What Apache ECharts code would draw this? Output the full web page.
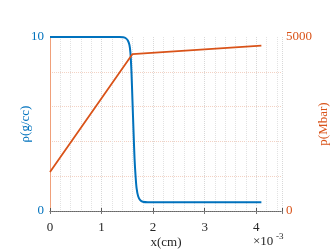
<!DOCTYPE html>
<html><head><meta charset="utf-8">
<script src="https://cdn.jsdelivr.net/npm/echarts@6/dist/echarts.min.js"></script>
<style>html,body{margin:0;padding:0;background:#fff}#c{width:332px;height:249px}</style>
</head><body><div id="c"></div>
<script>
// x in units of 1e-3 cm
const rhoX = [0, 1.35, 1.42, 1.47, 1.51, 1.54, 1.56, 1.58, 1.6, 1.62, 1.64, 1.66, 1.68, 1.71, 1.75, 1.8, 1.9, 4.1];
const rhoY = [10, 10, 9.98, 9.93, 9.8, 9.55, 9.1, 8.0, 6.3, 4.6, 3.0, 2.0, 1.3, 0.85, 0.62, 0.53, 0.5, 0.5];
const pX = [0, 1.6, 4.1];
const pY = [1120, 4510, 4750];
const xTicks = [0, 1, 2, 3, 4];

const blue = '#0072BD', orange = '#D95319';
const font = 'Liberation Serif';
const chart = echarts.init(document.getElementById('c'), null, {renderer: 'canvas'});
chart.setOption({
  animation: false,
  grid: {left: 50, right: 50, top: 37, bottom: 38, containLabel: false, outerBoundsMode: 'none'},
  xAxis: [{
    type: 'value', min: 0, max: 4.5, interval: 1,
    name: 'x(cm)', nameLocation: 'middle', nameGap: 25, nameMoveOverlap: false,
    nameTextStyle: {color: '#262626', fontFamily: font, fontSize: 13},
    axisLine: {lineStyle: {color: '#8a8a8a', type: 'dotted', width: 1}},
    axisTick: {inside: true, length: 3, lineStyle: {color: '#555'}},
    axisLabel: {color: '#262626', fontFamily: font, fontSize: 13, margin: 10,
      formatter: v => xTicks.includes(v) ? String(v) : ''},
    splitLine: {show: true, lineStyle: {color: '#d8d8d8', type: 'dotted'}},
    minorTick: {show: false, splitNumber: 5},
    minorSplitLine: {show: true, lineStyle: {color: '#e2e2e2', type: 'dotted'}}
  }, {
    type: 'value', min: 0, max: 4.5, interval: 1, position: 'top',
    axisLine: {show: true, lineStyle: {color: '#666', type: 'dotted', width: 1}},
    axisTick: {inside: true, length: 3, lineStyle: {color: '#777'}},
    axisLabel: {show: false}, splitLine: {show: false}
  }],
  yAxis: [{
    type: 'value', min: 0, max: 10, interval: 10,
    name: 'ρ(g/cc)', nameLocation: 'middle', nameGap: 18, nameRotate: 90, nameMoveOverlap: false,
    nameTextStyle: {color: blue, fontFamily: font, fontSize: 13, fontStyle: 'normal'},
    axisLine: {show: true, lineStyle: {color: '#e0a895', width: 1}},
    axisTick: {show: false},
    axisLabel: {color: blue, fontFamily: font, fontSize: 13, margin: 6},
    splitLine: {show: false}
  }, {
    type: 'value', min: 0, max: 5000, interval: 5000, position: 'right',
    name: 'p(Mbar)', nameLocation: 'middle', nameGap: 35, nameRotate: 90, nameMoveOverlap: false,
    nameTextStyle: {color: orange, fontFamily: font, fontSize: 13},
    axisLine: {show: true, lineStyle: {color: '#f0a07a', width: 1}},
    axisTick: {show: false},
    axisLabel: {color: orange, fontFamily: font, fontSize: 13, margin: 4, formatter: v => String(v)},
    splitLine: {show: false},
    minorTick: {show: false, splitNumber: 5},
    minorSplitLine: {show: true, lineStyle: {color: '#f3d2c4', type: 'dotted'}}
  }],
  graphic: [{
    type: 'text', left: 253, top: 235,
    style: {text: '×10', fill: '#262626', font: '13px "Liberation Serif"'}
  }, {
    type: 'text', left: 276, top: 232,
    style: {text: '-3', fill: '#262626', font: '9px "Liberation Serif"'}
  }],
  series: [{
    type: 'line', xAxisIndex: 0, yAxisIndex: 0, showSymbol: false, smooth: 0.3,
    data: rhoX.map((x, i) => [x, rhoY[i]]),
    lineStyle: {color: blue, width: 2}, itemStyle: {color: blue}
  }, {
    type: 'line', xAxisIndex: 0, yAxisIndex: 1, showSymbol: false,
    data: pX.map((x, i) => [x, pY[i]]),
    lineStyle: {color: orange, width: 1.8}, itemStyle: {color: orange}
  }]
});
</script></body></html>
